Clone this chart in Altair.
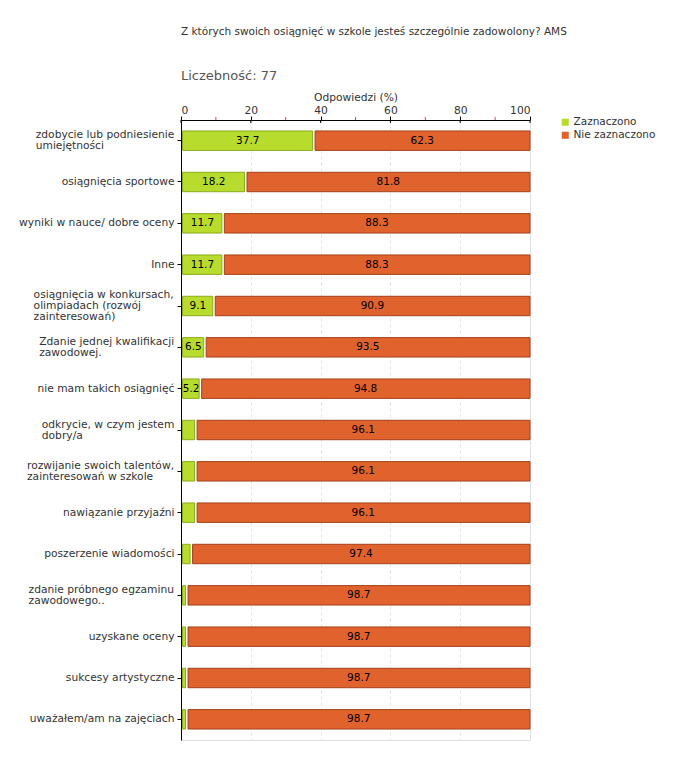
import json
import altair as alt
import pandas as pd

categories = [
    "zdobycie lub podniesienie|umiejętności",
    "osiągnięcia sportowe",
    "wyniki w nauce/ dobre oceny",
    "Inne",
    "osiągnięcia w konkursach,|olimpiadach (rozwój|zainteresowań)",
    "Zdanie jednej kwalifikacji|zawodowej.",
    "nie mam takich osiągnięć",
    "odkrycie, w czym jestem|dobry/a",
    "rozwijanie swoich talentów,|zainteresowań w szkole",
    "nawiązanie przyjaźni",
    "poszerzenie wiadomości",
    "zdanie próbnego egzaminu|zawodowego..",
    "uzyskane oceny",
    "sukcesy artystyczne",
    "uważałem/am na zajęciach",
]
zaznaczono = [37.7, 18.2, 11.7, 11.7, 9.1, 6.5, 5.2, 3.9, 3.9, 3.9, 2.6, 1.3, 1.3, 1.3, 1.3]
nie_zaznaczono = [62.3, 81.8, 88.3, 88.3, 90.9, 93.5, 94.8, 96.1, 96.1, 96.1, 97.4, 98.7, 98.7, 98.7, 98.7]
series = ["Zaznaczono", "Nie zaznaczono"]
colors = ["#b8dc2e", "#e0622c"]
major_ticks = [0, 20, 40, 60, 80, 100]
minor_ticks = [10, 30, 50, 70, 90]

FONT = "DejaVu Sans"
LABEL_SIZE = 10.7
LABEL_PAD = 3

# approximate DejaVu Sans advance widths (em): used to left-align wrapped label blocks
_W = {" ": .318, "i": .278, "l": .278, "j": .278, "t": .392, "f": .352, "r": .411,
      ",": .318, ".": .318, "/": .337, "(": .390, ")": .390, "w": .818, "m": .974,
      "a": .613, "b": .635, "c": .550, "d": .635, "e": .615, "g": .635, "h": .634,
      "k": .579, "n": .634, "o": .612, "p": .635, "s": .521, "u": .634, "v": .592,
      "y": .592, "z": .525, "ą": .613, "ę": .615, "ó": .612, "ś": .521, "ń": .634,
      "ć": .550, "ł": .29, "Z": .685, "I": .295}


def _width(s):
    return sum(_W.get(ch, .6) for ch in s) * LABEL_SIZE


pads = []
for c in categories:
    lines = c.split("|")
    if len(lines) > 1:
        pads.append(round(LABEL_PAD + max(_width(l) for l in lines), 1))
    else:
        pads.append(LABEL_PAD)

cat_js = json.dumps(categories, ensure_ascii=False)
pad_js = json.dumps(pads)

rows = []
for c, z, n in zip(categories, zaznaczono, nie_zaznaczono):
    rows.append({"cat": c, "series": series[0], "start": 0.0, "end": z, "value": z,
                 "mid": z / 2, "label": f"{z:.1f}", "show": z >= 5})
    rows.append({"cat": c, "series": series[1], "start": z, "end": 100.0, "value": n,
                 "mid": z + n / 2, "label": f"{n:.1f}", "show": True})
df = pd.DataFrame(rows)
ticks_df = pd.DataFrame({"t": major_ticks})
minor_df = pd.DataFrame({"t": minor_ticks})

xscale = alt.Scale(domain=[0, 100], nice=False, zero=True)
xaxis = alt.Axis(orient="top", values=major_ticks, grid=True, gridDash=[3, 3],
                 gridColor="#e4e4e4", domainColor="black", tickColor="black",
                 tickSize=4, labelFontSize=10.7, labelColor="#333333", labelPadding=1,
                 title="Odpowiedzi (%)", titleFontSize=10.7, titleFontWeight="normal",
                 titleColor="#333333", titlePadding=2, labelFont=FONT, titleFont=FONT)
yenc = alt.Y("cat:N", sort=categories,
             scale=alt.Scale(paddingInner=0.53, paddingOuter=0.265),
             axis=alt.Axis(title=None, labelExpr="split(datum.label, '|')",
                           labelOffset={"expr": "-(length(split(datum.label, '|')) - 1) * 5.5"},
                           labelAlign={"expr": "length(split(datum.label, '|')) > 1 ? 'left' : 'right'"},
                           labelPadding={"expr": f"{pad_js}[indexof({cat_js}, datum.label)]"},
                           labelFontSize=LABEL_SIZE, labelColor="#333333", labelFont=FONT,
                           tickSize=4, domainColor="black",
                           tickColor="black", labelLimit=250, labelLineHeight=11))
color = alt.Color("series:N", scale=alt.Scale(domain=series, range=colors),
                  legend=alt.Legend(title=None, orient="none", legendX=379, legendY=-3,
                                    symbolType="square", symbolSize=50,
                                    symbolStrokeWidth=0, labelFontSize=10.5,
                                    labelColor="#333333", labelFont=FONT,
                                    rowPadding=2, labelOffset=3))

base = alt.Chart(df)

green = base.transform_filter(alt.datum.series == series[0]).mark_bar(
    xOffset=1.5, stroke="#8aab1e", strokeWidth=1
).encode(
    x=alt.X("start:Q", scale=xscale, axis=xaxis), x2="end:Q", y=yenc, color=color
)
orange = base.transform_filter(alt.datum.series == series[1]).mark_bar(
    xOffset=2.5, stroke="#a3421c", strokeWidth=1
).encode(
    x=alt.X("start:Q", scale=xscale, axis=xaxis), x2="end:Q", y=yenc, color=color
)
labels = base.transform_filter(alt.datum.show).mark_text(
    fontSize=10.5, color="black", font=FONT, dx=1
).encode(
    x=alt.X("mid:Q", scale=xscale, axis=xaxis), y=yenc, text="label:N"
)
inner_ticks = alt.Chart(ticks_df).mark_rule(color="black", strokeWidth=1).encode(
    x=alt.X("t:Q", scale=xscale, axis=xaxis), y=alt.value(0), y2=alt.value(3)
)
red_ticks = alt.Chart(minor_df).mark_rule(color="#d04a4a", strokeWidth=1).encode(
    x=alt.X("t:Q", scale=xscale, axis=xaxis), y=alt.value(-3), y2=alt.value(0)
)

chart = alt.layer(green, orange, labels, inner_ticks, red_ticks).properties(
    width=349, height=620,
    autosize=alt.AutoSizeParams(type="none"),
    padding={"left": 173, "top": 112, "right": 140, "bottom": 8},
    title=alt.Title("Z których swoich osiągnięć w szkole jesteś szczególnie zadowolony? AMS",
                    subtitle="Liczebność: 77", anchor="start", frame="group",
                    fontSize=10.5, fontWeight="normal", color="#333333", font=FONT,
                    subtitleFont=FONT, subtitleFontSize=13, subtitleColor="#555555",
                    subtitlePadding=33, offset=8),
).configure_view(stroke=None).configure(font=FONT)

chart.save("out.html", embed_options={"renderer": "svg", "actions": False})
